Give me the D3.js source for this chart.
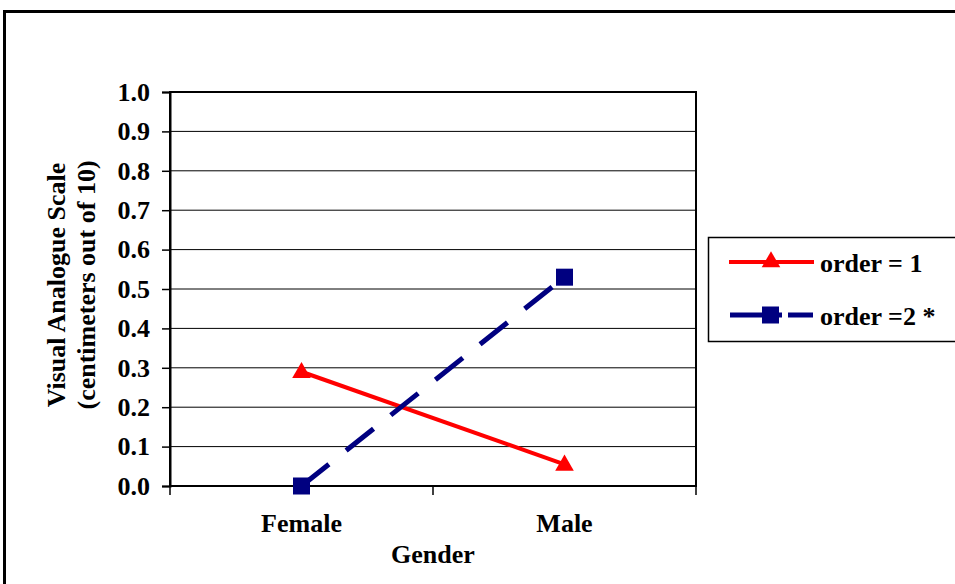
<!DOCTYPE html>
<html><head><meta charset="utf-8">
<script src="https://cdn.jsdelivr.net/npm/d3@7/dist/d3.min.js"></script>
<style>body{margin:0;background:#fff}svg{display:block}</style>
</head><body>
<svg id="chart" width="955" height="584"></svg>
<script>
const categories = ["Female", "Male"];
const order1 = [0.29, 0.055];
const order2 = [0.0, 0.53];
const seriesNames = ["order = 1", "order =2 *"];
const yTicks = [0, 0.1, 0.2, 0.3, 0.4, 0.5, 0.6, 0.7, 0.8, 0.9, 1.0];

const svg = d3.select("#chart");
const font = "'Liberation Serif','Times New Roman',serif";
const FS = 26;
const L = 170, R = 696, T = 92, B = 486;

svg.append("rect").attr("x", 4.5).attr("y", 11.5).attr("width", 1000).attr("height", 1000)
  .attr("fill", "#fff").attr("stroke", "#000").attr("stroke-width", 3);

const x = d3.scaleBand().domain(categories).range([L, R]);
const y = d3.scaleLinear().domain([0, 1]).range([B, T]);

// gridlines
svg.append("g").selectAll("line").data(yTicks.slice(1)).join("line")
  .attr("x1", L).attr("x2", R).attr("y1", d => y(d)).attr("y2", d => y(d))
  .attr("stroke", "#000").attr("stroke-width", 1);

// plot border
svg.append("rect").attr("x", L).attr("y", T).attr("width", R - L).attr("height", B - T)
  .attr("fill", "none").attr("stroke", "#000").attr("stroke-width", 2);

// y axis
const yAxis = svg.append("g").attr("transform", `translate(${L},0)`)
  .call(d3.axisLeft(y).tickValues(yTicks).tickFormat(d3.format(".1f")).tickSize(8).tickPadding(12));
yAxis.select(".domain").attr("stroke-width", 2);
yAxis.selectAll(".tick line").attr("stroke-width", 1.5);
yAxis.selectAll("text").attr("font-family", font).attr("font-weight", "bold").attr("font-size", FS).attr("fill", "#000");

// x axis
const xAxis = svg.append("g").attr("transform", `translate(0,${B})`)
  .call(d3.axisBottom(x).tickSize(0).tickPadding(28));
xAxis.select(".domain").remove();
xAxis.selectAll("text").attr("font-family", font).attr("font-weight", "bold").attr("font-size", FS).attr("fill", "#000");
// category separators
const seps = [L, L + x.step(), R];
svg.append("g").selectAll("line").data(seps).join("line")
  .attr("x1", d => d).attr("x2", d => d).attr("y1", B).attr("y2", B + 9)
  .attr("stroke", "#000").attr("stroke-width", 1.5);

// axis titles
svg.append("text").attr("x", (L + R) / 2).attr("y", 563).attr("text-anchor", "middle")
  .attr("font-family", font).attr("font-weight", "bold").attr("font-size", FS).text("Gender");
const yt = svg.append("text").attr("transform", `translate(65,285) rotate(-90)`)
  .attr("text-anchor", "middle").attr("font-family", font).attr("font-weight", "bold").attr("font-size", FS);
yt.append("tspan").attr("x", 0).attr("dy", 0).text("Visual Analogue Scale");
yt.append("tspan").attr("x", 0).attr("dy", 30).text("(centimeters out of 10)");

const cx = d => x(d) + x.bandwidth() / 2;
const line = d3.line().x(d => cx(d[0])).y(d => y(d[1]));

const d1 = categories.map((c, i) => [c, order1[i]]);
const d2 = categories.map((c, i) => [c, order2[i]]);
svg.append("path").datum(d1).attr("d", line).attr("fill", "none").attr("stroke", "#ff0000").attr("stroke-width", 4);
svg.append("path").datum(d2).attr("d", line).attr("fill", "none").attr("stroke", "#000080").attr("stroke-width", 5)
  .attr("stroke-dasharray", "35,22");

const tri = d3.symbol().type(d3.symbolTriangle).size(150);
svg.append("g").selectAll("path").data(d1).join("path")
  .attr("d", tri).attr("transform", d => `translate(${cx(d[0])},${y(d[1]) + 1})`).attr("fill", "#ff0000");
svg.append("g").selectAll("rect").data(d2).join("rect")
  .attr("x", d => cx(d[0]) - 8.5).attr("y", d => y(d[1]) - 8.5).attr("width", 17).attr("height", 17).attr("fill", "#000080");

// legend
const lg = svg.append("g");
lg.append("rect").attr("x", 708.5).attr("y", 237.5).attr("width", 260).attr("height", 104)
  .attr("fill", "#fff").attr("stroke", "#000").attr("stroke-width", 1.5);
lg.append("line").attr("x1", 729).attr("x2", 814).attr("y1", 262).attr("y2", 262).attr("stroke", "#ff0000").attr("stroke-width", 4);
lg.append("path").attr("d", tri).attr("transform", "translate(771,262)").attr("fill", "#ff0000");
lg.append("line").attr("x1", 730).attr("x2", 813).attr("y1", 315).attr("y2", 315).attr("stroke", "#000080").attr("stroke-width", 5)
  .attr("stroke-dasharray", "52,6,26");
lg.append("rect").attr("x", 762).attr("y", 306.5).attr("width", 17).attr("height", 17).attr("fill", "#000080");
lg.selectAll("text.l").data(seriesNames).join("text")
  .attr("x", 820).attr("y", (d, i) => 272 + i * 53)
  .attr("font-family", font).attr("font-weight", "bold").attr("font-size", FS).text(d => d);
</script>
</body></html>
